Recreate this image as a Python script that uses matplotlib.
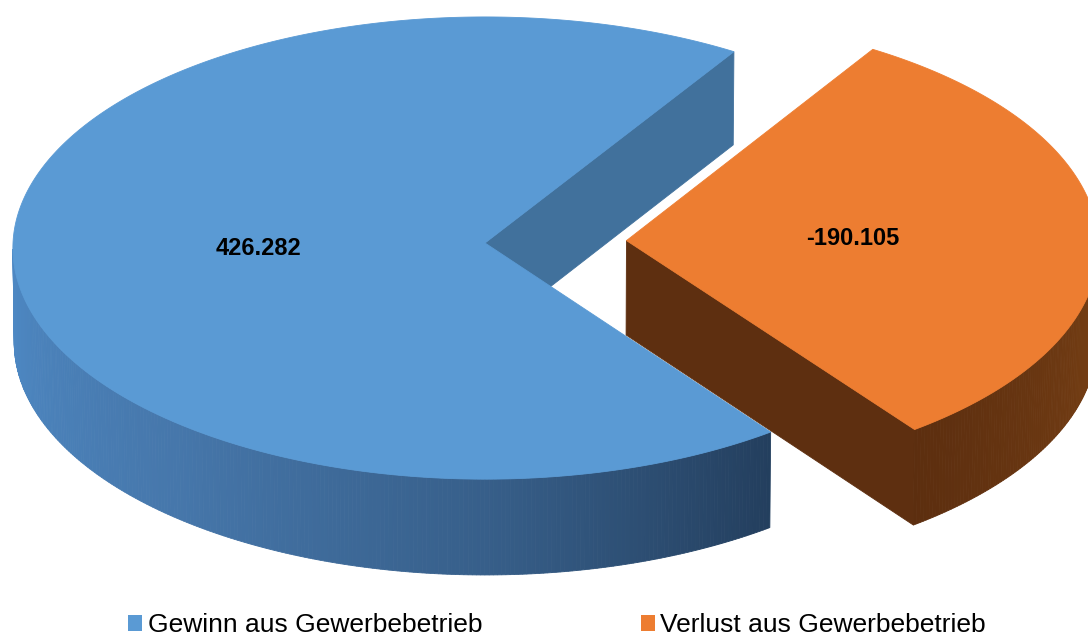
import numpy as np
import matplotlib
matplotlib.use("Agg")
import matplotlib.pyplot as plt
from matplotlib.patches import Polygon, Patch
from matplotlib.colors import to_rgb

# ---------------- data ----------------
categories = ["Gewinn aus Gewerbebetrieb", "Verlust aus Gewerbebetrieb"]
values = [426.282, -190.105]
value_labels = ["426.282", "-190.105"]
top_colors = ["#5A9AD4", "#ED7D31"]
cut_colors = ["#41719C", "#5E2F10"]
explode = [0.0, 0.30]

# side shading stops (angle in degrees, colour)
side_stops = [
    [(180, "#4E8AC6"), (230, "#4677AB"), (270, "#375F8A"), (307, "#233E5D")],
    [(306, "#5C2E0F"), (360, "#7A4114"), (420, "#7A4114")],
]

# ---------------- geometry (pixels) ----------------
W, H = 1088, 638
OX, OY = 485.0, 243.0
ELEV = np.radians(29.3)
DIST = 40.0
FOC = 18880.0
THICK = 0.23
MID_SMALL = 2.0          # bisector direction of the second slice (deg)
LABEL_R = 0.48

plt.rcParams["font.family"] = ["Liberation Sans", "DejaVu Sans"]

fig = plt.figure(figsize=(W / 100, H / 100), dpi=100)
ax = fig.add_axes([0, 0, 1, 1])
ax.set_xlim(0, W)
ax.set_ylim(H, 0)
ax.axis("off")


def proj(X, Y, Z):
    X = np.asarray(X, float); Y = np.asarray(Y, float); Z = np.asarray(Z, float)
    yc = Y * np.cos(ELEV) + Z * np.sin(ELEV)
    zc = DIST + Z * np.cos(ELEV) - Y * np.sin(ELEV)
    return OX + FOC * X / zc, OY - FOC * yc / zc


def signed_area(xs, ys):
    return 0.5 * np.sum(xs * np.roll(ys, -1) - np.roll(xs, -1) * ys)


def interp_color(stops, ang):
    a = np.array([s[0] for s in stops], float)
    cols = np.array([to_rgb(s[1]) for s in stops])
    return tuple(np.interp(ang, a, cols[:, k]) for k in range(3))


sizes = np.abs(np.array(values))
spans = 360.0 * sizes / sizes.sum()
starts = []
a = MID_SMALL + spans[1] / 2.0
for s in spans:
    starts.append(a)
    a += s

for i in range(len(values)):
    a0, a1 = starts[i], starts[i] + spans[i]
    mid = np.radians((a0 + a1) / 2.0)
    cx, cz = explode[i] * np.cos(mid), explode[i] * np.sin(mid)
    phis = np.radians(np.linspace(a0, a1, int(spans[i] * 2) + 2))
    rx, rz = cx + np.cos(phis), cz + np.sin(phis)

    faces = []
    # cut face at start angle
    P = [(cx, 0, cz), (rx[0], 0, rz[0]), (rx[0], -THICK, rz[0]), (cx, -THICK, cz)]
    faces.append((P, cut_colors[i]))
    # cut face at end angle
    P = [(rx[-1], 0, rz[-1]), (cx, 0, cz), (cx, -THICK, cz), (rx[-1], -THICK, rz[-1])]
    faces.append((P, cut_colors[i]))
    # outer side segments
    for k in range(len(phis) - 1):
        P = [(rx[k], 0, rz[k]), (rx[k + 1], 0, rz[k + 1]),
             (rx[k + 1], -THICK, rz[k + 1]), (rx[k], -THICK, rz[k])]
        ang = np.degrees((phis[k] + phis[k + 1]) / 2.0)
        faces.append((P, interp_color(side_stops[i], ang)))

    for P, col in faces:
        P = np.array(P)
        xs, ys = proj(P[:, 0], P[:, 1], P[:, 2])
        if signed_area(xs, ys) <= 0:
            continue
        ax.add_patch(Polygon(np.column_stack([xs, ys]), closed=True,
                             facecolor=col, edgecolor=col, linewidth=0.6))

    # top face
    tx = np.concatenate([[cx], rx])
    tz = np.concatenate([[cz], rz])
    xs, ys = proj(tx, np.zeros_like(tx), tz)
    ax.add_patch(Polygon(np.column_stack([xs, ys]), closed=True,
                         facecolor=top_colors[i], edgecolor=top_colors[i], linewidth=0.6))

    # value label
    lx, ly = proj(cx + LABEL_R * np.cos(mid), 0.0, cz + LABEL_R * np.sin(mid))
    ax.text(lx, ly + 2, value_labels[i], ha="center", va="center",
            fontsize=17, fontweight="bold", color="black")

handles = [Patch(facecolor=c, edgecolor="none") for c in top_colors]
fig.legend(handles, categories, loc="center",
           bbox_to_anchor=(557 / W, 1 - 625 / H), ncol=2, frameon=False,
           fontsize=19, handlelength=0.55, handleheight=0.55,
           handletextpad=0.2, columnspacing=6.0, borderpad=0)

fig.savefig("out.png", dpi=100, facecolor="white")
